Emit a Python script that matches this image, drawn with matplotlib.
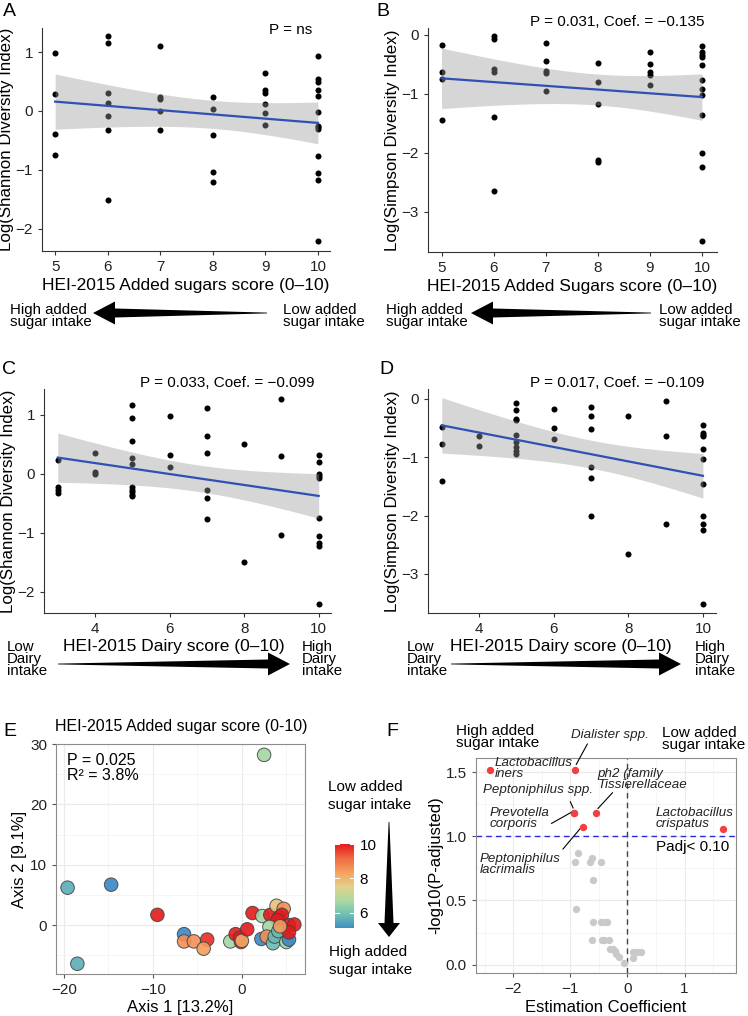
import numpy as np
import matplotlib
matplotlib.use("Agg")
import matplotlib.pyplot as plt
from matplotlib.patches import Polygon
from matplotlib.colors import LinearSegmentedColormap, Normalize
from matplotlib.cm import ScalarMappable

plt.rcParams['font.family'] = ['Liberation Sans', 'DejaVu Sans']

W, H = 748, 1016

# ---- data ----
# A: Shannon vs added sugars score
A_score = [5]*4 + [6]*7 + [7]*5 + [8]*5 + [9]*6 + [10]*13
A_shannon = [0.98, 0.29, -0.39, -0.75,
             1.27, 1.16, 0.30, 0.14, -0.08, -0.32, -1.51,
             1.10, 0.23, 0.20, 0.00, -0.33,
             0.24, 0.03, -0.41, -1.04, -1.21,
             0.65, 0.35, 0.31, 0.11, -0.04, -0.24,
             0.94, 0.55, 0.50, 0.36, 0.26, -0.01, -0.25, -0.28, -0.30, -0.77, -1.06, -1.17, -2.21]

# B: Simpson vs added sugars score
B_score = [5]*4 + [6]*6 + [7]*5 + [8]*5 + [9]*5 + [10]*12
B_simpson = [-0.18, -0.64, -0.76, -1.45,
             -0.03, -0.07, -0.58, -0.63, -1.40, -2.64,
             -0.14, -0.45, -0.62, -0.65, -0.95,
             -0.49, -0.81, -1.17, -2.13, -2.15,
             -0.29, -0.50, -0.64, -0.69, -0.86,
             -0.19, -0.29, -0.34, -0.38, -0.51, -0.77, -0.93, -1.03, -1.36, -2.01, -2.24, -3.50]

# C: Shannon vs dairy score
C_score = [3]*4 + [4]*3 + [5]*10 + [6]*3 + [7]*6 + [8]*2 + [9]*3 + [10]*10
C_shannon = [0.24, -0.23, -0.27, -0.32,
             0.35, 0.04, 0.00,
             1.17, 0.94, 0.55, 0.27, 0.16, -0.23, -0.27, -0.31, -0.36, -0.38,
             0.98, 0.32, 0.11,
             1.11, 0.65, 0.36, -0.27, -0.41, -0.76,
             0.50, -1.49,
             1.27, 0.31, -1.04,
             0.32, 0.21, 0.00, -0.03, -0.07, -0.75, -1.05, -1.17, -1.22, -2.21]

# D: Simpson vs dairy score
D_score = [3]*3 + [4]*2 + [5]*9 + [6]*3 + [7]*6 + [8]*2 + [9]*3 + [10]*11
D_simpson = [-0.48, -0.77, -1.40,
             -0.64, -0.81,
             -0.07, -0.19, -0.34, -0.37, -0.62, -0.74, -0.82, -0.89, -0.95,
             -0.17, -0.50, -0.69,
             -0.14, -0.29, -0.51, -1.17, -1.36, -2.01,
             -0.29, -2.65,
             -0.03, -0.63, -2.14,
             -0.45, -0.58, -0.62, -0.64, -0.85, -1.03, -1.45, -2.01, -2.14, -2.25, -3.51]

# E: ordination, axis 1 / axis 2, coloured by added sugar score
E_axis1 = [2.5, -19.6, -14.7, -18.5, -9.5, -6.5, -6.5, -5.4, -3.9, -4.3, -1.3, -0.7, -0.1, -0.2,
           0.0, 0.6, 1.2, 2.2, 2.3, 3.2, 3.9, 4.7, 4.2, 4.5, 4.0, 3.1, 2.8, 3.5, 3.7, 4.1,
           5.0, 5.3, 5.9, 5.3, 5.3, 4.3]
E_axis2 = [28.2, 6.2, 6.7, -6.4, 1.7, -1.5, -2.7, -2.7, -2.4, -3.9, -2.7, -1.5, -2.8, -2.1,
           -2.6, -0.7, 2.0, -2.3, 1.5, 1.7, 3.2, 2.7, 1.3, 1.7, 0.8, -0.3, -1.9, -3.0, -1.9, -1.0,
           -2.8, 0.0, 0.1, -2.4, -1.2, -0.2]
E_sugar = [6.6, 5.6, 5.0, 5.6, 10, 5.0, 8.6, 8.6, 9.8, 8.4, 6.6, 10, 10, 10,
           8.2, 10, 10, 5.0, 6.6, 10, 7.8, 8.6, 10, 10, 10, 6.6, 8.6, 5.8, 5.8, 5.8,
           6.5, 10, 10, 5.0, 10, 8.4]

# F: volcano plot
F_coef = [-2.41, -0.92, -0.93, -0.93, -0.55, -0.77, 1.68,
          -0.86, -0.92, -0.62, -0.66, -0.46, -0.61, -0.90, -0.61, -0.47, -0.40, -0.36,
          -0.62, -0.44, -0.41, -0.33, -0.30, -0.25, -0.22, -0.20, -0.15, -0.06,
          0.10, 0.09, 0.17, 0.23]
F_logp = [1.52, 1.52, 1.18, 1.18, 1.18, 1.07, 1.06,
          0.87, 0.80, 0.83, 0.80, 0.80, 0.66, 0.43, 0.33, 0.33, 0.33, 0.33,
          0.19, 0.19, 0.19, 0.19, 0.12, 0.12, 0.11, 0.08, 0.06, 0.01,
          0.10, 0.05, 0.10, 0.10]
F_taxa = ['Lactobacillus\niners', 'Dialister spp.', 'Peptoniphilus spp.', 'Prevotella\ncorporis',
          'ph2 (family\nTissierellaceae', 'Peptoniphilus\nlacrimalis', 'Lactobacillus\ncrispatus']

# label text position, and optional leader line start (data coords of panel F)
F_label_pos = [(-2.33, 1.53, None), (-0.98, 1.79, (-0.70, 1.72)), (-2.52, 1.36, (-1.00, 1.27)),
               (-2.42, 1.14, (-1.33, 1.10)), (-0.52, 1.44, (-0.26, 1.34)),
               (-2.58, 0.78, (-1.13, 0.90)), (0.50, 1.14, None)]

fig = plt.figure(figsize=(W / 100, H / 100), dpi=100)


def box(l, t, r, b):
    return [l / W, 1 - b / H, (r - l) / W, (b - t) / H]


def ftext(x, y, s, **kw):
    fig.text(x / W, 1 - y / H, s, **kw)


def taper_arrow(x0, y0, x1, y1, head_len=22, head_half=11.5, shaft_half=4.5):
    # tapered arrow in figure pixels, thin at (x0, y0), tip at (x1, y1)
    d = np.array([x1 - x0, y1 - y0], float)
    L = np.hypot(*d)
    u = d / L
    n = np.array([-u[1], u[0]])
    tail = np.array([x0, y0], float)
    tip = np.array([x1, y1], float)
    base = tip - u * head_len
    pts = [tail + n * 0.4, base + n * shaft_half, base + n * head_half, tip,
           base - n * head_half, base - n * shaft_half, tail - n * 0.4]
    pts = [(p[0] / W, 1 - p[1] / H) for p in pts]
    fig.patches.append(Polygon(pts, closed=True, transform=fig.transFigure,
                               facecolor='black', edgecolor='none'))


def fit_band(x, y):
    x = np.asarray(x, float)
    y = np.asarray(y, float)
    b, a = np.polyfit(x, y, 1)
    xs = np.linspace(x.min(), x.max(), 80)
    n = len(x)
    s = np.sqrt(np.sum((y - (a + b * x)) ** 2) / (n - 2))
    sxx = np.sum((x - x.mean()) ** 2)
    se = s * np.sqrt(1 / n + (xs - x.mean()) ** 2 / sxx)
    fit = a + b * xs
    return xs, fit, fit - 2.02 * se, fit + 2.02 * se


def scatter_panel(rect, x, y, xlim, ylim, xticks, yticks, ylabel, stat_text, stat_x, stat_y):
    ax = fig.add_axes(box(*rect))
    ax.scatter(x, y, s=19, color='black', zorder=1, linewidths=0)
    xs, fit, lo, hi = fit_band(x, y)
    ax.fill_between(xs, lo, hi, color='#999999', alpha=0.4, linewidth=0, zorder=2)
    ax.plot(xs, fit, color='#3050B4', lw=1.6, zorder=3)
    ax.set_xlim(*xlim)
    ax.set_ylim(*ylim)
    ax.set_xticks(xticks)
    ax.set_yticks(yticks)
    for sp in ['top', 'right']:
        ax.spines[sp].set_visible(False)
    for sp in ['left', 'bottom']:
        ax.spines[sp].set_color('#333333')
        ax.spines[sp].set_linewidth(0.8)
    ax.tick_params(colors='#333333', labelcolor='#222222', labelsize=11, length=3, width=0.8)
    ax.set_ylabel(ylabel, fontsize=12.2, labelpad=1)
    ftext(stat_x, stat_y, stat_text, fontsize=11, ha='right', va='center')
    return ax


# ---- A ----
axA = scatter_panel((42, 28, 330, 251), A_score, A_shannon, (4.75, 10.23), (-2.38, 1.41),
                    [5, 6, 7, 8, 9, 10], [-2, -1, 0, 1], 'Log(Shannon Diversity Index)',
                    'P = ns', 312, 30)
axA.set_xlabel('HEI-2015 Added sugars score (0–10)', fontsize=12.5, labelpad=3)

# ---- B ----
axB = scatter_panel((428, 28, 717, 252), B_score, B_simpson, (4.74, 10.29), (-3.68, 0.11),
                    [5, 6, 7, 8, 9, 10], [-3, -2, -1, 0], 'Log(Simpson Diversity Index)',
                    'P = 0.031, Coef. = −0.135', 704, 22)
axB.set_xlabel('HEI-2015 Added Sugars score (0–10)', fontsize=12.5, labelpad=3)

# ---- C ----
axC = scatter_panel((44, 389, 331, 613), C_score, C_shannon, (2.63, 10.33), (-2.36, 1.44),
                    [4, 6, 8, 10], [-2, -1, 0, 1], 'Log(Shannon Diversity Index)',
                    'P = 0.033, Coef. = −0.099', 314, 383)

# ---- D ----
axD = scatter_panel((428, 389, 716, 613), D_score, D_simpson, (2.63, 10.35), (-3.67, 0.17),
                    [4, 6, 8, 10], [-3, -2, -1, 0], 'Log(Simpson Diversity Index)',
                    'P = 0.017, Coef. = −0.109', 704, 383)

# arrows under A/B
for x0 in (0, 376):
    ftext(x0 + 10, 316, 'High added\nsugar intake', fontsize=10.8, va='center', linespacing=0.9)
    ftext(x0 + 283, 316, 'Low added\nsugar intake', fontsize=10.8, va='center', linespacing=0.9)
taper_arrow(267, 313, 93, 313)
taper_arrow(651, 313, 471, 313)

# arrows under C/D
for x0, x1 in ((0, 0), (400, 393)):
    ftext(7 + x0, 659, 'Low\nDairy\nintake', fontsize=10.8, va='center', linespacing=0.85)
    ftext(302 + x1, 659, 'High\nDairy\nintake', fontsize=10.8, va='center', linespacing=0.85)
ftext(174, 646, 'HEI-2015 Dairy score (0–10)', fontsize=12.5, ha='center', va='center')
ftext(561, 646, 'HEI-2015 Dairy score (0–10)', fontsize=12.5, ha='center', va='center')
taper_arrow(58, 664, 290, 664)
taper_arrow(451, 664, 681, 664)

# ---- E ----
cmap = LinearSegmentedColormap.from_list(
    'sugar', ['#3a87c4', '#6cbdb1', '#a9d9a2', '#e2d28d', '#f5a25f', '#ef6a45', '#e31a1c'])
norm = Normalize(vmin=5, vmax=10)

axE = fig.add_axes(box(56, 744, 305, 974))
axE.scatter(E_axis1, E_axis2, c=E_sugar, cmap=cmap, norm=norm, s=95,
            edgecolors='#444444', linewidths=0.7, alpha=0.9, zorder=3)
axE.set_xlim(-20.9, 7.1)
axE.set_ylim(-8.1, 30.0)
axE.set_xticks([-20, -10, 0])
axE.set_yticks([0, 10, 20, 30])
axE.set_xticks([-15, -5, 5], minor=True)
axE.set_yticks([-5, 5, 15, 25], minor=True)
axE.grid(True, which='major', color='#ebebeb', lw=0.8)
axE.grid(True, which='minor', color='#f2f2f2', lw=0.5)
axE.set_axisbelow(True)
for sp in axE.spines.values():
    sp.set_color('#8c8c8c')
    sp.set_linewidth(0.8)
axE.tick_params(which='major', colors='#555555', labelcolor='#222222', labelsize=11, length=3)
axE.tick_params(which='minor', length=0)
axE.set_xlabel('Axis 1 [13.2%]', fontsize=12, labelpad=2)
axE.set_ylabel('Axis 2 [9.1%]', fontsize=12, labelpad=2)
ftext(181, 726, 'HEI-2015 Added sugar score (0-10)', fontsize=11.5, ha='center', va='center')
ftext(67, 768, 'P = 0.025\nR² = 3.8%', fontsize=11.5, va='center', linespacing=0.95)

cax = fig.add_axes(box(335, 844, 354, 928))
cb = fig.colorbar(ScalarMappable(norm=norm, cmap=cmap), cax=cax, ticks=[6, 8, 10])
cb.outline.set_visible(False)
cax.set_ylim(5.1, 10)
cax.tick_params(length=0, labelsize=11, pad=4)
for t in [6, 8, 10]:
    cax.plot([0, 0.2], [t, t], color='white', lw=0.8, transform=cax.get_yaxis_transform())
    cax.plot([0.8, 1.0], [t, t], color='white', lw=0.8, transform=cax.get_yaxis_transform())
ftext(328, 796, 'Low added\nsugar intake', fontsize=11, va='center', linespacing=1.3)
ftext(329, 961, 'High added\nsugar intake', fontsize=11, va='center', linespacing=1.3)
taper_arrow(389, 822, 389, 937, head_len=14, head_half=11, shaft_half=4.5)

# ---- F ----
axF = fig.add_axes(box(476, 758, 736, 973))
F_coef = np.array(F_coef)
F_logp = np.array(F_logp)
sig = F_logp > 1.0
axF.scatter(F_coef[~sig], F_logp[~sig], s=28, color='#c9c9c9', linewidths=0, zorder=3)
axF.scatter(F_coef[sig], F_logp[sig], s=28, color='#f24040', linewidths=0, zorder=4)
axF.axhline(1.0, color='#2b2bd9', lw=1.0, ls=(0, (4, 3)), zorder=2)
axF.axvline(0.0, color='#444444', lw=1.0, ls=(0, (4, 3)), zorder=2)
axF.set_xlim(-2.65, 1.9)
axF.set_ylim(-0.065, 1.61)
axF.set_xticks([-2, -1, 0, 1])
axF.set_yticks([0.0, 0.5, 1.0, 1.5])
axF.set_yticklabels(['0.0', '0.5', '1.0', '1.5'])
axF.set_xticks([-2.5, -1.5, -0.5, 0.5, 1.5], minor=True)
axF.set_yticks([0.25, 0.75, 1.25], minor=True)
axF.grid(True, which='major', color='#ebebeb', lw=0.8)
axF.grid(True, which='minor', color='#f2f2f2', lw=0.5)
axF.set_axisbelow(True)
for sp in axF.spines.values():
    sp.set_color('#8c8c8c')
    sp.set_linewidth(0.8)
axF.tick_params(which='major', colors='#555555', labelcolor='#222222', labelsize=11, length=3)
axF.tick_params(which='minor', length=0)
axF.set_xlabel('Estimation Coefficient', fontsize=12, labelpad=3)
axF.set_ylabel('-log10(P-adjusted)', fontsize=12, labelpad=2)

sig_idx = np.where(sig)[0]
for name, (tx, ty, start), i in zip(F_taxa, F_label_pos, sig_idx):
    axF.text(tx, ty, name, fontsize=9.6, style='italic', va='center', ha='left',
             linespacing=0.85, color='#222222', zorder=5, clip_on=False)
    if start is not None:
        axF.annotate('', xy=(F_coef[i], F_logp[i] + 0.02), xytext=start,
                     arrowprops=dict(arrowstyle='-', color='black', lw=0.8, shrinkA=0, shrinkB=2),
                     annotation_clip=False)
axF.text(0.50, 0.92, 'Padj< 0.10', fontsize=11, va='center', ha='left')
ftext(456, 737, 'High added\nsugar intake', fontsize=11, va='center', linespacing=0.9)
ftext(662, 739, 'Low added\nsugar intake', fontsize=11, va='center', linespacing=0.9)

# panel letters
for letter, x, y in [('A', 3, 12), ('B', 376, 12), ('C', 2, 369), ('D', 379, 369),
                     ('E', 3, 731), ('F', 386, 731)]:
    ftext(x, y, letter, fontsize=14, va='center', ha='left')

fig.savefig('out.png', dpi=100)
